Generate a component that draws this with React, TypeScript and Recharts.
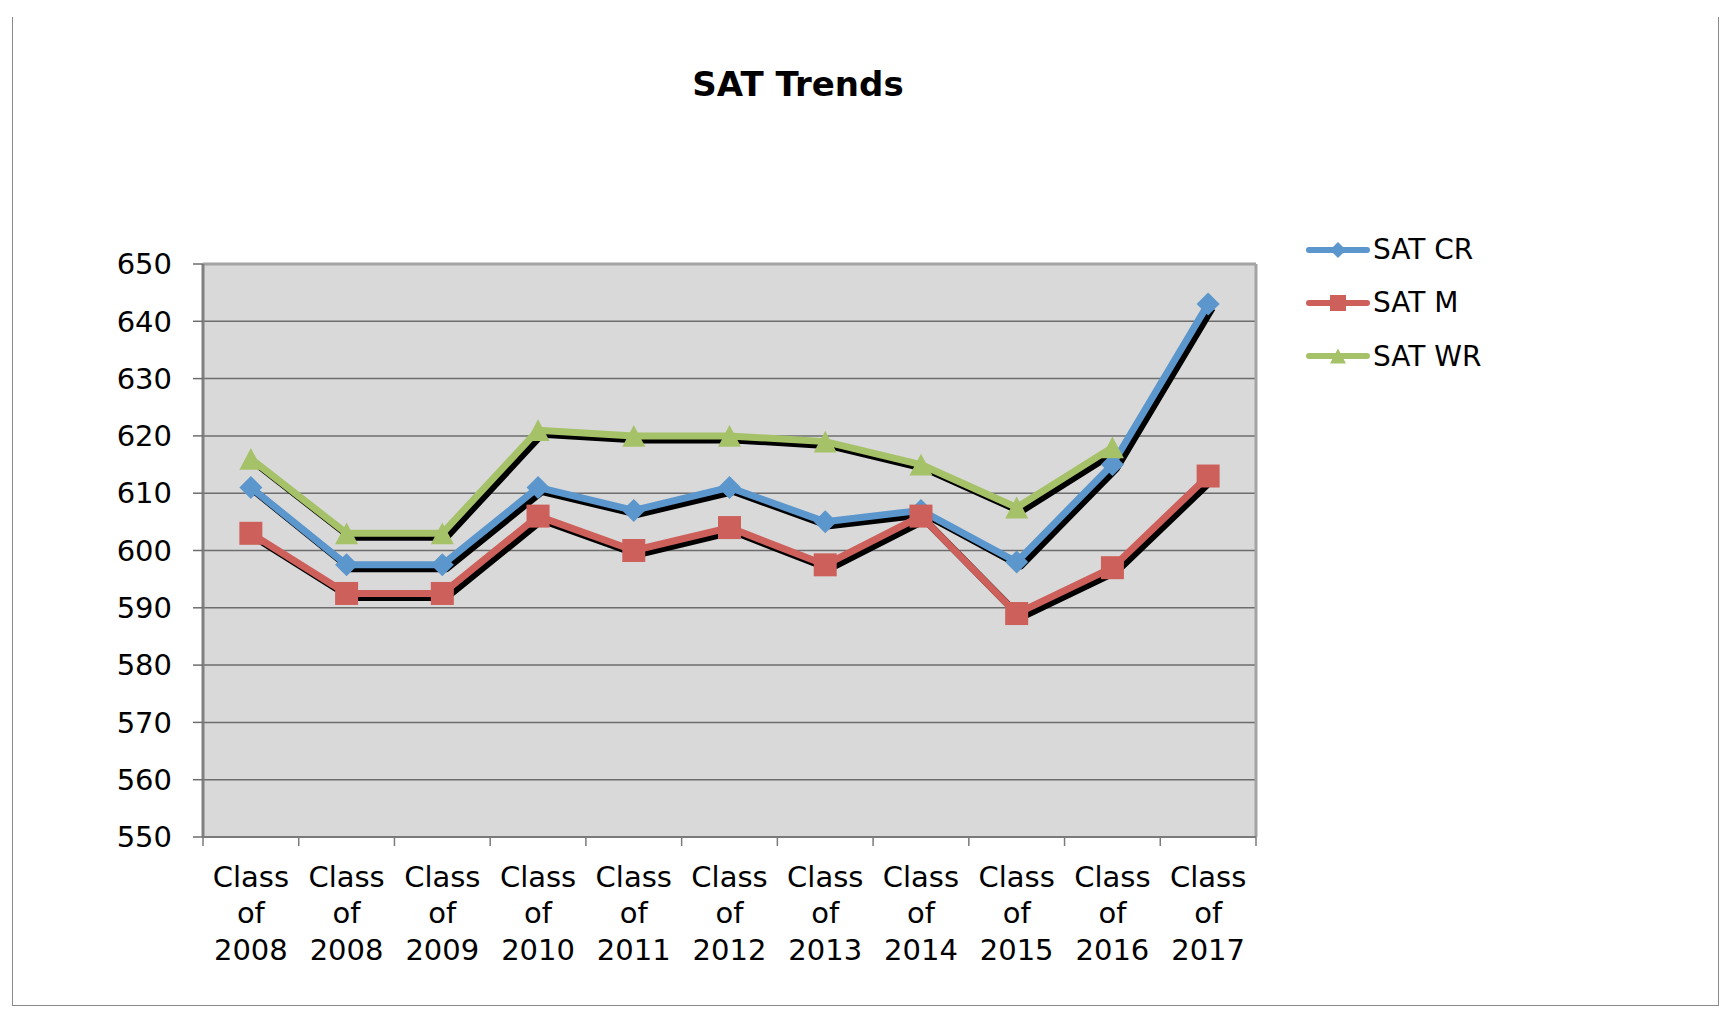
import React from 'react';
import { LineChart, Line, XAxis, YAxis, CartesianGrid, Legend, ReferenceLine } from 'recharts';

const categories = [
  'Class of 2008', 'Class of 2008', 'Class of 2009', 'Class of 2010', 'Class of 2011',
  'Class of 2012', 'Class of 2013', 'Class of 2014', 'Class of 2015', 'Class of 2016', 'Class of 2017',
];
const satCR = [611, 597.5, 597.5, 611, 607, 611, 605, 607, 598, 615, 643];
const satM = [603, 592.5, 592.5, 606, 600, 604, 597.5, 606, 589, 597, 613];
const satWR = [616, 603, 603, 621, 620, 620, 619, 615, 607.5, 618, null];
const yTicks = [550, 560, 570, 580, 590, 600, 610, 620, 630, 640, 650];

const series = [
  { key: 'cr', name: 'SAT CR', color: '#5b96cc', marker: 'diamond' },
  { key: 'm', name: 'SAT M', color: '#cd605b', marker: 'square' },
  { key: 'wr', name: 'SAT WR', color: '#a6c269', marker: 'triangle' },
];

const data = categories.map((c, i) => ({ idx: i, label: c, cr: satCR[i], m: satM[i], wr: satWR[i] }));

const xTicks: number[] = [];
for (let i = 0; i <= categories.length; i++) {
  xTicks.push(i - 0.5);
  if (i < categories.length) xTicks.push(i);
}

const FONT = '"DejaVu Sans", Verdana, sans-serif';

function markerShape(marker: string, cx: number, cy: number, h: number, color: string, key?: any) {
  if (marker === 'diamond') {
    return <polygon key={key} points={`${cx},${cy - h} ${cx + h},${cy} ${cx},${cy + h} ${cx - h},${cy}`} fill={color} />;
  }
  if (marker === 'square') {
    return <rect key={key} x={cx - h} y={cy - h} width={2 * h} height={2 * h} fill={color} />;
  }
  return <polygon key={key} points={`${cx},${cy - h * 0.95} ${cx + h},${cy + h * 0.95} ${cx - h},${cy + h * 0.95}`} fill={color} />;
}

const makeDot = (marker: string, color: string) => (props: any) => {
  const { cx, cy, value, index } = props;
  if (cx == null || cy == null || value == null) return <g key={`e${index}`} />;
  return markerShape(marker, cx, cy, 11.5, color, `d${index}`);
};

const XTick = (props: any) => {
  const { x, y, payload } = props;
  const v = payload.value;
  if (!Number.isInteger(v)) {
    return <line x1={x} x2={x} y1={y} y2={y + 9} stroke="#7a7a7a" strokeWidth={1.5} />;
  }
  const words = categories[v].split(' ');
  const offs = [50, 86, 123];
  return (
    <text textAnchor="middle" fontSize={29} fontFamily={FONT} fill="#000">
      {words.map((w, i) => (
        <tspan key={i} x={x} y={y + offs[i]}>{w}</tspan>
      ))}
    </text>
  );
};

const renderLegend = () => (
  <div style={{ fontFamily: FONT, fontSize: 28, color: '#000' }}>
    {series.map((s) => (
      <div key={s.key} style={{ display: 'flex', alignItems: 'center', height: 53.33, lineHeight: '53.33px' }}>
        <svg width={68} height={24} style={{ display: 'block' }}>
          <line x1={4} x2={62} y1={12} y2={12} stroke={s.color} strokeWidth={6} strokeLinecap="round" />
          {markerShape(s.marker, 33, 12, 8, s.color)}
        </svg>
        <span style={{ whiteSpace: 'nowrap' }}>{s.name}</span>
      </div>
    ))}
  </div>
);

export default function App() {
  return (
    <div style={{ position: 'absolute', left: 0, top: 0, width: 1734, height: 1025, background: '#fff' }}>
      <div
        style={{
          position: 'absolute', left: 12, top: 17, width: 1707, height: 989, boxSizing: 'border-box',
          borderLeft: '1.5px solid #8a8a8a', borderRight: '1.5px solid #8a8a8a', borderBottom: '1.5px solid #8a8a8a',
        }}
      />
      <div
        style={{
          position: 'absolute', left: 598, top: 64, width: 400, textAlign: 'center', fontFamily: FONT,
          fontWeight: 'bold', fontSize: 34, lineHeight: '40px', color: '#000',
        }}
      >
        SAT Trends
      </div>
      <div style={{ position: 'absolute', left: 0, top: 0 }}>
        <LineChart width={1734} height={1025} data={data} margin={{ top: 264, right: 478, bottom: 158, left: 123 }}>
          <CartesianGrid xAxisId="x" yAxisId="y" vertical={false} fill="#d9d9d9" stroke="#6d6d6d" strokeWidth={1.5} />
          <XAxis
            xAxisId="x"
            type="number"
            dataKey="idx"
            domain={[-0.5, categories.length - 0.5]}
            allowDataOverflow
            ticks={xTicks}
            interval={0}
            tick={<XTick />}
            tickLine={false}
            tickSize={0}
            tickMargin={0}
            height={30}
            axisLine={{ stroke: '#7a7a7a', strokeWidth: 2 }}
          />
          <XAxis
            xAxisId="sx"
            type="number"
            dataKey="idx"
            domain={[-0.5 - 0.042, categories.length - 0.5 - 0.042]}
            allowDataOverflow
            height={0}
            hide
          />
          <YAxis
            yAxisId="y"
            domain={[550, 650]}
            ticks={yTicks}
            interval={0}
            width={80}
            tickSize={10}
            tickMargin={21}
            tick={{ fontSize: 29, fontFamily: FONT, fill: '#000' }}
            tickLine={{ stroke: '#6d6d6d', strokeWidth: 1.5 }}
            axisLine={{ stroke: '#808080', strokeWidth: 3 }}
          />
          <YAxis yAxisId="sy" domain={[550.7, 650.7]} allowDataOverflow width={0} hide />
          <ReferenceLine xAxisId="x" yAxisId="y" y={650} stroke="#a3a3a3" strokeWidth={3} />
          <ReferenceLine xAxisId="x" yAxisId="y" x={categories.length - 0.5} stroke="#a3a3a3" strokeWidth={3} />
          {series.flatMap((s) => [
            <Line
              key={`${s.key}-shadow`}
              xAxisId="sx"
              yAxisId="sy"
              dataKey={s.key}
              stroke="#000"
              strokeWidth={7}
              strokeLinejoin="round"
              dot={false}
              activeDot={false}
              legendType="none"
              isAnimationActive={false}
              connectNulls={false}
            />,
            <Line
              key={s.key}
              xAxisId="x"
              yAxisId="y"
              dataKey={s.key}
              name={s.name}
              stroke={s.color}
              strokeWidth={7}
              strokeLinejoin="round"
              dot={makeDot(s.marker, s.color)}
              activeDot={false}
              isAnimationActive={false}
              connectNulls={false}
            />,
          ])}
          <Legend
            layout="vertical"
            align="center"
            verticalAlign="middle"
            wrapperStyle={{ left: 1305, top: 223, width: 300 }}
            content={renderLegend}
          />
        </LineChart>
      </div>
    </div>
  );
}
